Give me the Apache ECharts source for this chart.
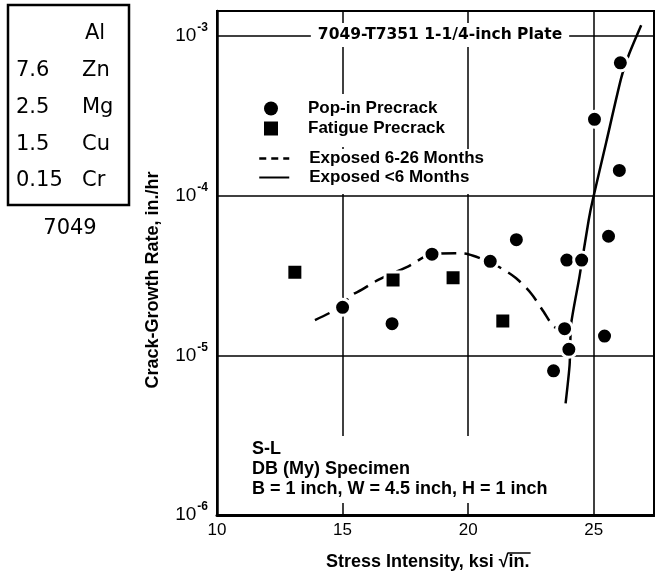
<!DOCTYPE html>
<html lang="en">
<head>
    <meta charset="UTF-8">
    <title>7049-T7351 crack growth</title>
    <script src="https://cdn.jsdelivr.net/npm/echarts@6/dist/echarts.min.js"></script>
    <style>
        html, body {
            margin: 0;
            padding: 0;
            background: #fff;
        }

        #chart {
            width: 655px;
            height: 572px;
        }
    </style>
</head>

<body>
<div id="chart"></div>

<script type="text/javascript">
    // 数据点 (x: ksi sqrt(in), y: in./hr)
    const popinX = [15.0, 16.97, 18.56, 20.88, 21.92, 23.4, 23.84, 24.01, 23.93, 24.52, 25.43, 25.59, 25.03, 26.02, 26.06];
    const popinY = [2.0e-5, 1.58e-5, 4.3e-5, 3.88e-5, 5.3e-5, 8.0e-6, 1.47e-5, 1.09e-5, 3.95e-5, 3.95e-5, 1.32e-5, 5.57e-5, 3.01e-4, 1.44e-4, 6.8e-4];

    const fatigueX = [13.1, 17.01, 19.4, 21.38];
    const fatigueY = [3.32e-5, 2.96e-5, 3.06e-5, 1.64e-5];

    // 拟合曲线
    const dashX = [13.9, 14.56, 15.0, 15.3, 15.75, 16.3, 16.9, 17.6, 18.58, 19.5, 20.0, 20.66, 21.2, 21.9, 22.5, 23.0, 23.4, 23.7];
    const dashY = [1.66e-5, 1.87e-5, 2.05e-5, 2.35e-5, 2.57e-5, 2.9e-5, 3.22e-5, 3.6e-5, 4.31e-5, 4.36e-5, 4.3e-5, 3.95e-5, 3.6e-5, 3.05e-5, 2.45e-5, 1.88e-5, 1.52e-5, 1.45e-5];

    const solidX = [23.88, 24.04, 24.1, 24.43, 24.8, 24.96, 25.5, 26.09, 26.42, 26.89];
    const solidY = [5.0e-6, 8.7e-6, 1.57e-5, 3.09e-5, 7.05e-5, 9.4e-5, 2.17e-4, 5.43e-4, 7.8e-4, 1.17e-3];

    const seriesNames = ['Pop-in Precrack', 'Fatigue Precrack', 'Exposed 6-26 Months', 'Exposed <6 Months'];

    // 成分表
    const alloyPct = ['', '7.6', '2.5', '1.5', '0.15'];
    const alloyEl = ['Al', 'Zn', 'Mg', 'Cu', 'Cr'];

    const noteLines = ['S-L', 'DB (My) Specimen', 'B = 1 inch, W = 4.5 inch, H = 1 inch'];

    const FONT = "'Liberation Sans', Arial, Helvetica, sans-serif";

    function pairs(xs, ys) {
        return xs.map(function (x, i) {
            return [x, ys[i]];
        });
    }

    // 量一下横轴标题的宽度, 用来放根号上的横线
    let ctx = document.createElement('canvas').getContext('2d');
    ctx.font = 'bold 18px ' + FONT;
    const xNameLeft = 326;
    const xNameHead = 'Stress Intensity, ksi \u221A';
    const xNameTail = 'in.';
    let headW = ctx.measureText(xNameHead).width;
    let tailW = ctx.measureText(xNameTail).width;

    let chart = echarts.init(document.getElementById('chart'), null, {renderer: 'canvas'});

    let graphics = [
        {
            type: 'rect',
            z: 100,
            shape: {x: 8, y: 5, width: 121, height: 200},
            style: {fill: 'none', stroke: '#000', lineWidth: 2.5}
        },
        {
            type: 'text',
            z: 100,
            style: {
                x: 70, y: 229, text: '7049', fill: '#000',
                font: "21px 'DejaVu Sans', sans-serif",
                textAlign: 'center', textVerticalAlign: 'middle'
            }
        },
        {
            // 标题
            type: 'text',
            z: 100,
            style: {
                x: 440, y: 35, text: '7049-T7351 1-1/4-inch Plate', fill: '#000',
                font: "bold 15.5px 'DejaVu Sans', sans-serif",
                textAlign: 'center', textVerticalAlign: 'middle',
                backgroundColor: '#fff', padding: [4, 7, 4, 7]
            }
        },
        {
            // 试样说明
            type: 'text',
            z: 100,
            style: {
                x: 246, y: 436, text: noteLines.join('\n'), fill: '#000',
                font: 'bold 18px ' + FONT, lineHeight: 20,
                textAlign: 'left', textVerticalAlign: 'top',
                backgroundColor: '#fff', padding: [3, 6, 4, 6]
            }
        },
        {
            type: 'text',
            z: 100,
            x: 153,
            y: 280,
            rotation: Math.PI / 2,
            style: {
                x: 0, y: 0, text: 'Crack-Growth Rate, in./hr', fill: '#000',
                font: 'bold 18px ' + FONT,
                textAlign: 'center', textVerticalAlign: 'middle'
            }
        },
        {
            type: 'text',
            z: 100,
            style: {
                x: xNameLeft, y: 562, text: xNameHead + xNameTail, fill: '#000',
                font: 'bold 18px ' + FONT,
                textAlign: 'left', textVerticalAlign: 'middle'
            }
        },
        {
            // 根号上横线
            type: 'line',
            z: 100,
            shape: {x1: xNameLeft + headW - 1, y1: 553, x2: xNameLeft + headW + tailW + 1, y2: 553},
            style: {stroke: '#000', lineWidth: 1.5}
        }
    ];

    alloyEl.forEach(function (el, i) {
        let y = 34 + i * 36.7;
        graphics.push({
            type: 'text', z: 100,
            style: {
                x: 16, y: y, text: alloyPct[i], fill: '#000',
                font: "21px 'DejaVu Sans', sans-serif", textVerticalAlign: 'middle'
            }
        });
        graphics.push({
            type: 'text', z: 100,
            style: {
                x: i === 0 ? 85 : 82, y: y, text: el, fill: '#000',
                font: "21px 'DejaVu Sans', sans-serif", textVerticalAlign: 'middle'
            }
        });
    });

    function legendText(padLeft) {
        return {
            color: '#000',
            fontFamily: FONT,
            fontWeight: 'bold',
            fontSize: 17,
            padding: [0, 0, 0, padLeft]
        };
    }

    let option = {
        animation: false,
        textStyle: {fontFamily: FONT},
        grid: {
            left: 217,
            right: 1,
            top: 11,
            bottom: 57,
            show: true,
            borderColor: '#000',
            borderWidth: 2,
            containLabel: false,
            outerBoundsMode: 'none'
        },
        legend: [
            {
                data: [
                    {name: seriesNames[0], icon: 'circle'},
                    {name: seriesNames[1], icon: 'rect'}
                ],
                orient: 'vertical',
                left: 258,
                top: 94,
                itemWidth: 14,
                itemHeight: 14,
                itemGap: 3,
                padding: [6, 4, 10, 6],
                backgroundColor: '#fff',
                selectedMode: false,
                itemStyle: {borderWidth: 0},
                textStyle: legendText(25),
                z: 10
            },
            {
                data: [
                    {name: seriesNames[2], lineStyle: {type: [7, 5], width: 2.5}},
                    {name: seriesNames[3]}
                ],
                orient: 'vertical',
                left: 252,
                top: 149,
                itemWidth: 30,
                itemHeight: 14,
                itemGap: 2,
                padding: [1, 6, 8, 6],
                backgroundColor: '#fff',
                selectedMode: false,
                itemStyle: {opacity: 0, borderWidth: 0},
                textStyle: legendText(15),
                z: 10
            }
        ],
        xAxis: {
            type: 'value',
            min: 10,
            max: 27.4,
            interval: 5,
            axisLine: {lineStyle: {color: '#000', width: 3}},
            axisTick: {show: false},
            splitLine: {show: true, lineStyle: {color: '#000', width: 1.5}},
            axisLabel: {
                color: '#000',
                fontSize: 17,
                margin: 7,
                formatter: function (v) {
                    return v % 5 === 0 ? String(v) : '';
                }
            }
        },
        yAxis: {
            type: 'log',
            logBase: 10,
            min: 1e-6,
            max: 1.435e-3,
            axisLine: {show: true, lineStyle: {color: '#000', width: 2.5}},
            axisTick: {show: false},
            minorTick: {show: false},
            splitLine: {show: true, lineStyle: {color: '#000', width: 1.5}},
            axisLabel: {
                margin: 9,
                formatter: function (v) {
                    let e = Math.log10(v);
                    let r = Math.round(e);
                    if (Math.abs(e - r) > 1e-6) {
                        return '';
                    }
                    return '{b|10}{s|-' + Math.abs(r) + '}';
                },
                rich: {
                    b: {fontSize: 19, color: '#000', fontFamily: FONT},
                    s: {fontSize: 12, fontWeight: 'bold', color: '#000', fontFamily: FONT, padding: [0, 0, 16, 1]}
                }
            }
        },
        series: [
            {
                name: seriesNames[2],
                type: 'line',
                data: pairs(dashX, dashY),
                smooth: 0.3,
                symbol: 'none',
                showSymbol: false,
                lineStyle: {color: '#000', width: 2.5, type: [16, 8]},
                itemStyle: {color: '#000'},
                z: 2,
                silent: true
            },
            {
                name: seriesNames[3],
                type: 'line',
                data: pairs(solidX, solidY),
                smooth: 0.2,
                symbol: 'none',
                showSymbol: false,
                lineStyle: {color: '#000', width: 2.5},
                itemStyle: {color: '#000'},
                z: 2,
                silent: true
            },
            {
                name: seriesNames[0],
                type: 'scatter',
                data: pairs(popinX, popinY),
                symbol: 'circle',
                symbolSize: 16,
                itemStyle: {color: '#000', borderColor: '#fff', borderWidth: 3, opacity: 1},
                z: 4,
                silent: true
            },
            {
                name: seriesNames[1],
                type: 'scatter',
                data: pairs(fatigueX, fatigueY),
                symbol: 'rect',
                symbolSize: 16,
                itemStyle: {color: '#000', borderColor: '#fff', borderWidth: 3, opacity: 1},
                z: 4,
                silent: true
            }
        ],
        graphic: graphics
    };

    chart.setOption(option);
</script>
</body>
</html>
